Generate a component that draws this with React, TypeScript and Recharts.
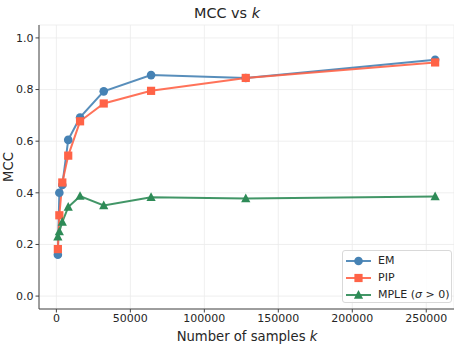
import React from 'react'
import {
  LineChart,
  Line,
  XAxis,
  YAxis,
  CartesianGrid,
} from 'recharts'

const K = [1000, 2000, 4000, 8000, 16000, 32000, 64000, 128000, 256000]
const EM = [0.16, 0.4, 0.43, 0.605, 0.692, 0.793, 0.856, 0.845, 0.915]
const PIP = [0.182, 0.313, 0.44, 0.544, 0.677, 0.746, 0.795, 0.845, 0.905]
const MPLE = [0.23, 0.25, 0.287, 0.345, 0.387, 0.351, 0.383, 0.378, 0.386]

const X_TICKS = [0, 50000, 100000, 150000, 200000, 250000]
const Y_TICKS = [0, 0.2, 0.4, 0.6, 0.8, 1.0]

const COLORS = { em: '#4682b4', pip: '#ff6347', mple: '#2e8b57' }
const FONT = '"DejaVu Sans", sans-serif'
const TEXT = '#262626'

const data = K.map((k, i) => ({ k, em: EM[i], pip: PIP[i], mple: MPLE[i] }))

type Shape = 'circle' | 'square' | 'triangle'

function Marker({ cx, cy, shape, color }: { cx: number; cy: number; shape: Shape; color: string }) {
  if (shape === 'circle') return <circle cx={cx} cy={cy} r={4.3} fill={color} />
  if (shape === 'square') return <rect x={cx - 4.1} y={cy - 4.1} width={8.2} height={8.2} fill={color} />
  return <polygon points={`${cx},${cy - 4.9} ${cx - 4.6},${cy + 3.7} ${cx + 4.6},${cy + 3.7}`} fill={color} />
}

const dotFor = (shape: Shape, color: string) => (props: any) => (
  <g key={`${shape}-${props.index}`}>
    <Marker cx={props.cx} cy={props.cy} shape={shape} color={color} />
  </g>
)

const SERIES: { key: 'em' | 'pip' | 'mple'; label: React.ReactNode; shape: Shape }[] = [
  { key: 'em', label: 'EM', shape: 'circle' },
  { key: 'pip', label: 'PIP', shape: 'square' },
  {
    key: 'mple',
    label: (
      <>
        MPLE (<i>σ</i> &gt; 0)
      </>
    ),
    shape: 'triangle',
  },
]

const tickStyle = { fill: TEXT, fontSize: 11, fontFamily: FONT }

export default function App() {
  return (
    <div style={{ position: 'absolute', left: 0, top: 0, width: 454, height: 346, background: '#fff' }}>
      <LineChart width={454} height={346} data={data} margin={{ top: 25, right: 0, bottom: 0, left: 0 }}>
        <CartesianGrid stroke="#ebebeb" strokeWidth={0.8} />
        <XAxis
          dataKey="k"
          type="number"
          domain={[-11750, 268750]}
          ticks={X_TICKS}
          allowDataOverflow
          height={37}
          tick={tickStyle}
          tickLine={{ stroke: '#444' }}
          tickSize={3.5}
          axisLine={{ stroke: '#444', strokeWidth: 1 }}
        />
        <XAxis xAxisId="top" orientation="top" type="number" domain={[0, 1]} height={0} tick={false} tickLine={false} axisLine={{ stroke: '#444' }} />
        <YAxis
          type="number"
          domain={[-0.05, 1.05]}
          ticks={Y_TICKS}
          allowDataOverflow
          width={39}
          tick={tickStyle}
          tickFormatter={(v: number) => v.toFixed(1)}
          tickLine={{ stroke: '#444' }}
          tickSize={3.5}
          axisLine={{ stroke: '#444', strokeWidth: 1 }}
        />
        {SERIES.map((s) => (
          <Line
            key={s.key}
            dataKey={s.key}
            stroke={COLORS[s.key]}
            strokeWidth={2}
            strokeOpacity={0.9}
            dot={dotFor(s.shape, COLORS[s.key])}
            activeDot={false}
            isAnimationActive={false}
          />
        ))}
        <text x={227} y={18} textAnchor="middle" fontSize={14.4} fontFamily={FONT} fill={TEXT}>
          MCC vs <tspan fontStyle="italic">k</tspan>
        </text>
        <text x={247} y={341} textAnchor="middle" fontSize={13.2} fontFamily={FONT} fill={TEXT}>
          Number of samples <tspan fontStyle="italic">k</tspan>
        </text>
        <text x={13} y={167} textAnchor="middle" fontSize={13.2} fontFamily={FONT} fill={TEXT} transform="rotate(-90 13 167)">
          MCC
        </text>
      </LineChart>
      <div
        style={{
          position: 'absolute',
          left: 342,
          top: 250,
          width: 110,
          height: 53,
          border: '1px solid #d9d9d9',
          borderRadius: 3,
          background: 'rgba(255,255,255,0.85)',
          fontFamily: FONT,
          fontSize: 11,
          color: TEXT,
          boxSizing: 'border-box',
          paddingTop: 1,
        }}
      >
        {SERIES.map((s) => (
          <div key={s.key} style={{ display: 'flex', alignItems: 'center', height: 17, paddingLeft: 2 }}>
            <svg width={27} height={12} style={{ marginRight: 6 }}>
              <line x1={1} y1={6} x2={26} y2={6} stroke={COLORS[s.key]} strokeWidth={2} strokeOpacity={0.9} />
              <Marker cx={13.5} cy={6} shape={s.shape} color={COLORS[s.key]} />
            </svg>
            <span>{s.label}</span>
          </div>
        ))}
      </div>
    </div>
  )
}
